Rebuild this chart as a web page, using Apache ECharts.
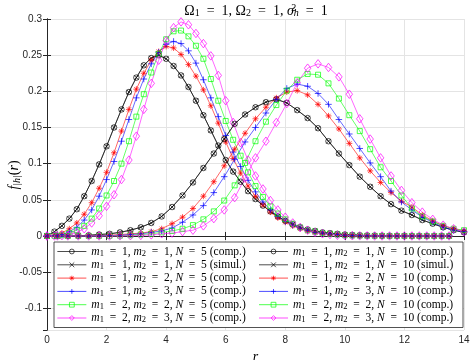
<!DOCTYPE html>
<html>
<head>
<meta charset="utf-8">
<script src="https://cdn.jsdelivr.net/npm/echarts@6/dist/echarts.min.js"></script>
<style>
  html, body { margin: 0; padding: 0; background: #fff; }
  #chart { width: 471px; height: 360px; }
</style>
</head>
<body>
<div id="chart"></div>
<script>
// r grid of the N = 5 curves (step 0.25)
const r5 = [0, 0.25, 0.5, 0.75, 1, 1.25, 1.5, 1.75, 2, 2.25, 2.5, 2.75, 3, 3.25, 3.5, 3.75,
  4, 4.25, 4.5, 4.75, 5, 5.25, 5.5, 5.75, 6, 6.25, 6.5, 6.75, 7, 7.25, 7.5, 7.75,
  8, 8.25, 8.5, 8.75, 9, 9.25, 9.5, 9.75, 10, 10.25, 10.5, 10.75, 11, 11.25, 11.5, 11.75,
  12, 12.25, 12.5, 12.75, 13, 13.25, 13.5];
// r grid of the N = 10 curves (step 0.35)
const r10 = [0, 0.35, 0.7, 1.05, 1.4, 1.75, 2.1, 2.45, 2.8, 3.15, 3.5, 3.85, 4.2, 4.55,
  4.9, 5.25, 5.6, 5.95, 6.3, 6.65, 7, 7.35, 7.7, 8.05, 8.4, 8.75, 9.1, 9.45, 9.8, 10.15,
  10.5, 10.85, 11.2, 11.55, 11.9, 12.25, 12.6, 12.95, 13.3, 13.65, 14];

// N = 5
const c5_11 = [0, 0.006, 0.014, 0.024, 0.037, 0.055, 0.076, 0.099, 0.124, 0.150, 0.175, 0.199, 0.219, 0.236, 0.246, 0.250,
  0.245, 0.235, 0.222, 0.206, 0.187, 0.167, 0.146, 0.125, 0.105, 0.089, 0.075, 0.062, 0.051, 0.042, 0.034, 0.027,
  0.021, 0.016, 0.012, 0.009, 0.007, 0.005, 0.004, 0.003, 0.002, 0.0015, 0.001, 0.0007, 0.0005, 0.0003, 0.0002, 0.0001,
  0.0001, 0, 0, 0, 0, 0, 0];
// simulation points sit on the computed m1 = m2 = 1 curve
const sim5_11 = c5_11;
const c5_12 = [0, 0.001, 0.004, 0.010, 0.018, 0.030, 0.046, 0.066, 0.088, 0.115, 0.145, 0.175, 0.203, 0.225, 0.243, 0.255,
  0.262, 0.260, 0.251, 0.237, 0.221, 0.202, 0.180, 0.156, 0.130, 0.107, 0.087, 0.069, 0.055, 0.043, 0.033, 0.025,
  0.019, 0.014, 0.010, 0.007, 0.005, 0.004, 0.003, 0.002, 0.0015, 0.001, 0.0007, 0.0005, 0.0003, 0.0002, 0.0001, 0.0001,
  0, 0, 0, 0, 0, 0, 0];
const c5_13 = [0, 0.0005, 0.002, 0.006, 0.012, 0.022, 0.036, 0.055, 0.078, 0.103, 0.131, 0.161, 0.191, 0.217, 0.238, 0.254,
  0.265, 0.269, 0.266, 0.256, 0.239, 0.216, 0.191, 0.165, 0.139, 0.116, 0.096, 0.077, 0.061, 0.047, 0.036, 0.027,
  0.020, 0.015, 0.011, 0.008, 0.005, 0.004, 0.003, 0.002, 0.001, 0.0007, 0.0005, 0.0003, 0.0002, 0.0001, 0.0001, 0,
  0, 0, 0, 0, 0, 0, 0];
const c5_22 = [0, 0.0002, 0.001, 0.004, 0.008, 0.014, 0.024, 0.038, 0.056, 0.076, 0.100, 0.131, 0.165, 0.196, 0.226, 0.252,
  0.272, 0.283, 0.284, 0.276, 0.263, 0.245, 0.217, 0.187, 0.159, 0.133, 0.111, 0.088, 0.069, 0.054, 0.041, 0.031,
  0.023, 0.017, 0.012, 0.008, 0.006, 0.004, 0.003, 0.002, 0.001, 0.0006, 0.0004, 0.0002, 0.0001, 0.0001, 0, 0,
  0, 0, 0, 0, 0, 0, 0];
const c5_23 = [0, 0, 0.0005, 0.002, 0.005, 0.010, 0.018, 0.028, 0.041, 0.057, 0.078, 0.105, 0.138, 0.175, 0.211, 0.243,
  0.270, 0.288, 0.296, 0.292, 0.280, 0.266, 0.249, 0.222, 0.187, 0.157, 0.129, 0.105, 0.083, 0.065, 0.049, 0.036,
  0.026, 0.018, 0.012, 0.008, 0.005, 0.003, 0.002, 0.001, 0.0006, 0.0003, 0.0002, 0.0001, 0, 0, 0, 0,
  0, 0, 0, 0, 0, 0, 0];

// N = 10
const c10_11 = [0, 0, 0, 0.0003, 0.001, 0.002, 0.003, 0.005, 0.008, 0.012,
  0.018, 0.027, 0.040, 0.056, 0.074, 0.094, 0.114, 0.134, 0.155, 0.168,
  0.178, 0.185, 0.189, 0.184, 0.174, 0.163, 0.149, 0.131, 0.114, 0.098,
  0.082, 0.068, 0.055, 0.044, 0.035, 0.029, 0.022, 0.017, 0.012, 0.008, 0.005];
const sim10_11 = c10_11;
const c10_12 = [0, 0, 0, 0, 0.0002, 0.0005, 0.001, 0.002, 0.003, 0.004,
  0.006, 0.010, 0.017, 0.026, 0.038, 0.055, 0.075, 0.097, 0.120, 0.142,
  0.162, 0.178, 0.191, 0.199, 0.201, 0.195, 0.182, 0.166, 0.148, 0.128,
  0.108, 0.090, 0.074, 0.060, 0.048, 0.040, 0.029, 0.021, 0.014, 0.010, 0.007];
const c10_13 = [0, 0, 0, 0, 0, 0.0002, 0.0005, 0.001, 0.002, 0.003,
  0.005, 0.007, 0.011, 0.019, 0.029, 0.042, 0.060, 0.082, 0.106, 0.130,
  0.150, 0.170, 0.189, 0.204, 0.210, 0.207, 0.197, 0.182, 0.161, 0.141,
  0.121, 0.101, 0.082, 0.062, 0.047, 0.036, 0.026, 0.019, 0.012, 0.008, 0.006];
const c10_22 = [0, 0, 0, 0, 0, 0, 0.0002, 0.0004, 0.001, 0.002,
  0.003, 0.005, 0.007, 0.010, 0.015, 0.023, 0.034, 0.049, 0.070, 0.101,
  0.131, 0.158, 0.181, 0.201, 0.216, 0.224, 0.223, 0.211, 0.190, 0.167,
  0.145, 0.120, 0.095, 0.076, 0.056, 0.038, 0.027, 0.020, 0.014, 0.010, 0.008];
const c10_23 = [0, 0, 0, 0, 0, 0, 0, 0.0002, 0.0004, 0.0008,
  0.0015, 0.003, 0.004, 0.006, 0.008, 0.014, 0.024, 0.036, 0.053, 0.080,
  0.108, 0.131, 0.157, 0.183, 0.212, 0.232, 0.238, 0.233, 0.220, 0.196,
  0.162, 0.134, 0.108, 0.083, 0.063, 0.046, 0.033, 0.023, 0.015, 0.010, 0.006];

const xTicks = [0, 14, 2];        // min, max, step
const yRange = [-0.13, 0.3];

const SYM = {
  circle: { symbol: 'circle', size: 5.5 },
  cross: { symbol: 'path://M0,0L10,10M10,0L0,10', size: 4.5 },
  star: { symbol: 'path://M5,0L5,10M0,5L10,5M1.5,1.5L8.5,8.5M8.5,1.5L1.5,8.5', size: 6 },
  plus: { symbol: 'path://M5,0L5,10M0,5L10,5', size: 6.5 },
  square: { symbol: 'rect', size: 5 },
  diamond: { symbol: 'diamond', size: [6.5, 8.5] }
};

const curves = [
  { r: r5, v: c5_11, color: '#000000', sym: 'circle', m1: 1, m2: 1, N: 5, kind: 'comp.' },
  { r: r5, v: sim5_11, color: '#000000', sym: 'cross', m1: 1, m2: 1, N: 5, kind: 'simul.' },
  { r: r5, v: c5_12, color: '#ff0000', sym: 'star', m1: 1, m2: 2, N: 5, kind: 'comp.' },
  { r: r5, v: c5_13, color: '#0000ff', sym: 'plus', m1: 1, m2: 3, N: 5, kind: 'comp.' },
  { r: r5, v: c5_22, color: '#00ff00', sym: 'square', m1: 2, m2: 2, N: 5, kind: 'comp.' },
  { r: r5, v: c5_23, color: '#ff00ff', sym: 'diamond', m1: 2, m2: 3, N: 5, kind: 'comp.' },
  { r: r10, v: c10_11, color: '#000000', sym: 'circle', m1: 1, m2: 1, N: 10, kind: 'comp.' },
  { r: r10, v: sim10_11, color: '#000000', sym: 'cross', m1: 1, m2: 1, N: 10, kind: 'simul.' },
  { r: r10, v: c10_12, color: '#ff0000', sym: 'star', m1: 1, m2: 2, N: 10, kind: 'comp.' },
  { r: r10, v: c10_13, color: '#0000ff', sym: 'plus', m1: 1, m2: 3, N: 10, kind: 'comp.' },
  { r: r10, v: c10_22, color: '#00ff00', sym: 'square', m1: 2, m2: 2, N: 10, kind: 'comp.' },
  { r: r10, v: c10_23, color: '#ff00ff', sym: 'diamond', m1: 2, m2: 3, N: 10, kind: 'comp.' }
];

const serif = 'Liberation Serif';
const axisColor = '#262626';
const EQ = '\u2002=\u2002';   // wider spacing around "=" like TeX math

// 图例文字（带下标）
const labels = {};
const series = curves.map((c, i) => {
  const name = 'c' + i;
  labels[name] = '{i|m}{s|1}{n|' + EQ + c.m1 + ', }{i|m}{s|2}{n|' + EQ + c.m2 + ', }{i|N}{n|' + EQ + c.N + ' (' + c.kind + ')}';
  return {
    name: name,
    type: 'line',
    data: c.r.map((r, k) => [r, c.v[k]]),
    symbol: SYM[c.sym].symbol,
    symbolSize: SYM[c.sym].size,
    showSymbol: true,
    color: c.color,
    lineStyle: { color: c.color, width: 0.6 },
    itemStyle: { color: 'rgba(0,0,0,0)', borderColor: c.color, borderWidth: 0.7 },
    emphasis: { disabled: true },
    z: 2
  };
});

const chart = echarts.init(document.getElementById('chart'));
chart.setOption({
  animation: false,
  backgroundColor: '#fff',
  grid: { left: 47, top: 19, right: 7, bottom: 30, outerBoundsMode: 'none', containLabel: false },
  graphic: [{
    // 标题
    type: 'text',
    x: 256,
    y: 11,
    style: {
      text: '{t|Ω}{s|1}{t|' + EQ + '1, Ω}{s|2}{t|' + EQ + '1, }{i|σ}{p|2}{b|h}{t|' + EQ + '1}',
      align: 'center',
      verticalAlign: 'middle',
      rich: {
        t: { fontFamily: serif, fontSize: 14, color: '#000', lineHeight: 15 },
        i: { fontFamily: serif, fontStyle: 'italic', fontSize: 14, color: '#000', lineHeight: 15 },
        s: { fontFamily: serif, fontSize: 10, color: '#000', verticalAlign: 'bottom', lineHeight: 8 },
        p: { fontFamily: serif, fontSize: 10, color: '#000', verticalAlign: 'top', lineHeight: 6, width: 0.01 },
        b: { fontFamily: serif, fontStyle: 'italic', fontSize: 10, color: '#000', verticalAlign: 'bottom', lineHeight: 8 }
      }
    }
  }, {
    // Y 轴名称
    type: 'text',
    x: 14,
    y: 175,
    rotation: Math.PI / 2,
    style: {
      text: '{i|f}{s||h|}{n|(}{i|r}{n|)}',
      align: 'center',
      verticalAlign: 'middle',
      rich: {
        i: { fontFamily: serif, fontStyle: 'italic', fontSize: 14, color: '#000', lineHeight: 16 },
        n: { fontFamily: serif, fontSize: 14, color: '#000', lineHeight: 16 },
        s: { fontFamily: serif, fontStyle: 'italic', fontSize: 10, color: '#000', verticalAlign: 'bottom', lineHeight: 8 }
      }
    }
  }],
  legend: {
    orient: 'vertical',
    left: 54,
    top: 242,
    height: 80,
    padding: [3, 3, 3, 3],
    itemGap: 0.3,
    itemWidth: 29,
    itemHeight: 6,
    borderColor: axisColor,
    borderWidth: 0.8,
    backgroundColor: '#fff',
    itemStyle: { color: 'rgba(0,0,0,0)', borderWidth: 0.7 },
    lineStyle: { width: 0.7 },
    data: series.map(s => s.name),
    formatter: name => labels[name],
    textStyle: {
      width: 167,
      lineHeight: 13,
      fontFamily: serif,
      fontSize: 11.5,
      color: '#000',
      rich: {
        i: { fontFamily: serif, fontStyle: 'italic', fontSize: 11.5, color: '#000', lineHeight: 13 },
        n: { fontFamily: serif, fontSize: 11.5, color: '#000', lineHeight: 13 },
        s: { fontFamily: serif, fontSize: 8.5, color: '#000', verticalAlign: 'bottom', lineHeight: 7 }
      }
    }
  },
  xAxis: [{
    type: 'value',
    min: xTicks[0],
    max: xTicks[1],
    interval: xTicks[2],
    name: '{i|r}',
    nameLocation: 'middle',
    nameGap: 16,
    nameTextStyle: { rich: { i: { fontFamily: serif, fontStyle: 'italic', fontSize: 14, color: '#000' } } },
    axisLine: { lineStyle: { color: axisColor, width: 1 } },
    axisTick: { inside: true, length: 4, lineStyle: { color: axisColor } },
    axisLabel: { margin: 5, color: axisColor, fontFamily: 'Liberation Sans', fontSize: 10 },
    splitLine: { show: true, lineStyle: { color: '#e4e4e4', width: 1 } }
  }, {
    type: 'value',
    position: 'top',
    min: xTicks[0],
    max: xTicks[1],
    interval: xTicks[2],
    axisLine: { show: true, lineStyle: { color: axisColor, width: 1 } },
    axisTick: { show: true, inside: true, length: 4, lineStyle: { color: axisColor } },
    axisLabel: { show: false },
    splitLine: { show: false }
  }],
  yAxis: [{
    type: 'value',
    min: yRange[0],
    max: yRange[1],
    splitNumber: 8,
    axisLine: { show: true, lineStyle: { color: axisColor, width: 1 } },
    axisTick: { show: true, inside: true, length: 4, lineStyle: { color: axisColor } },
    axisLabel: { margin: 5, color: axisColor, fontFamily: 'Liberation Sans', fontSize: 10, showMinLabel: false },
    splitLine: { show: true, lineStyle: { color: '#e4e4e4', width: 1 } }
  }, {
    type: 'value',
    position: 'right',
    min: yRange[0],
    max: yRange[1],
    splitNumber: 8,
    axisLine: { show: true, lineStyle: { color: axisColor, width: 1 } },
    axisTick: { show: true, inside: true, length: 4, lineStyle: { color: axisColor } },
    axisLabel: { show: false },
    splitLine: { show: false }
  }],
  series: series
});
</script>
</body>
</html>
